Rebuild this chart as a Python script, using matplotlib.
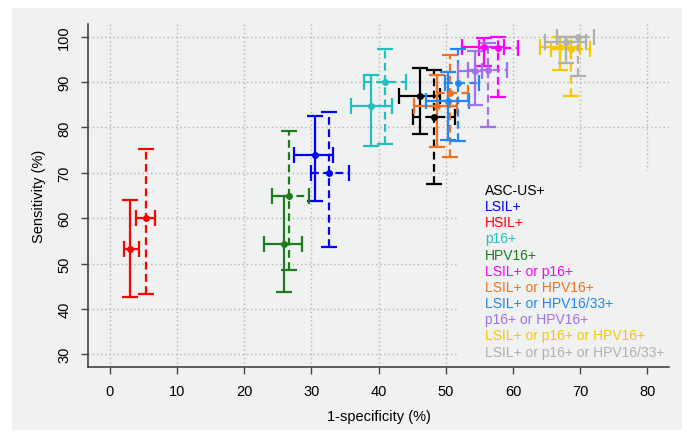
import numpy as np
import matplotlib.pyplot as plt
from matplotlib.patches import Rectangle

plt.rcParams['font.family'] = ['Liberation Sans', 'DejaVu Sans']

labels = ["ASC-US+", "LSIL+", "HSIL+", "p16+", "HPV16+", "LSIL+ or p16+",
          "LSIL+ or HPV16+", "LSIL+ or HPV16/33+", "p16+ or HPV16+",
          "LSIL+ or p16+ or HPV16+", "LSIL+ or p16+ or HPV16/33+"]
colors = ["black", "#0000ff", "#ff0000", "#20c0c0", "#1e7b1e", "#ff00ff",
          "#f07020", "#2088f0", "#a070f0", "#f5c800", "#b0b0b0"]

# solid bars
fpr_a = [46.2, 30.5, 3.1, 38.9, 25.9, 55.7, 48.7, 50.3, 54.4, 67.0, 67.9]
fpr_a_lo = [43.0, 27.5, 2.1, 35.9, 23.0, 52.4, 45.3, 47.0, 51.8, 64.0, 64.8]
fpr_a_hi = [49.2, 33.3, 4.4, 42.0, 28.6, 58.7, 51.7, 53.4, 55.4, 70.0, 70.9]
sens_a = [86.9, 73.9, 53.3, 84.7, 54.4, 97.8, 84.7, 85.8, 92.5, 97.7, 98.9]
sens_a_lo = [78.5, 63.8, 42.6, 75.9, 43.7, 93.5, 75.8, 77.2, 85.0, 92.6, 94.3]
sens_a_hi = [93.0, 82.6, 64.0, 91.5, 64.8, 99.8, 91.5, 92.2, 96.9, 99.9, 100.0]

# dashed bars
fpr_b = [48.2, 32.7, 5.45, 41.0, 26.75, 57.7, 50.6, 51.8, 56.3, 68.6, 69.6]
fpr_b_lo = [45.2, 29.9, 4.0, 37.9, 24.2, 55.0, 48.7, 49.9, 53.3, 65.6, 66.5]
fpr_b_hi = [51.4, 35.6, 6.8, 44.1, 29.6, 60.7, 53.3, 54.9, 59.1, 71.5, 72.1]
sens_b = [82.3, 70.0, 60.15, 90.0, 65.0, 97.5, 87.6, 89.9, 92.6, 97.4, 100.0]
sens_b_lo = [67.5, 53.6, 43.4, 76.3, 48.5, 86.8, 73.4, 77.0, 80.0, 87.0, 91.4]
sens_b_hi = [92.7, 83.5, 75.2, 97.2, 79.3, 100.0, 96.0, 97.2, 98.7, 100.0, 100.0]

bg = '#f0f1f1'
fig = plt.figure(figsize=(6.87, 4.35), dpi=100)
fig.patches.append(Rectangle((12 / 687, 4 / 435), 670 / 687, 422 / 435,
                             transform=fig.transFigure, facecolor=bg,
                             edgecolor='none', zorder=-10))
ax = fig.add_axes([88 / 687, 67 / 435, 581 / 687, 343 / 435])
ax.set_facecolor(bg)

sets = [(fpr_a, fpr_a_lo, fpr_a_hi, sens_a, sens_a_lo, sens_a_hi, False),
        (fpr_b, fpr_b_lo, fpr_b_hi, sens_b, sens_b_lo, sens_b_hi, True)]
for i in range(len(labels)):
    for fx, flo, fhi, sy, slo, shi, dashed in sets:
        eb = ax.errorbar(fx[i], sy[i],
                         xerr=[[fx[i] - flo[i]], [fhi[i] - fx[i]]],
                         yerr=[[sy[i] - slo[i]], [shi[i] - sy[i]]],
                         fmt='o', color=colors[i], ms=4, lw=1.6,
                         capsize=6, capthick=1.6, zorder=3)
        if dashed:
            for lc in eb[2]:
                lc.set_linestyle((0, (3.5, 2)))

ax.set_xlim(-3.2, 83.2)
ax.set_ylim(27.2, 102.8)
ax.set_xticks(np.arange(0, 81, 10))
ax.set_yticks(np.arange(30, 101, 10))
ax.grid(color='#b4b4b4', linestyle=(0, (1, 2)), linewidth=1)
ax.set_axisbelow(True)

for s in ['top', 'right']:
    ax.spines[s].set_visible(False)
for s in ['left', 'bottom']:
    ax.spines[s].set_color('#444444')
    ax.spines[s].set_linewidth(1.2)

ax.tick_params(direction='out', length=5, width=1, color='#444444',
               labelsize=10.5, pad=7)
ax.tick_params(axis='y', labelrotation=90)
for t in ax.get_yticklabels():
    t.set_va('center')

ax.set_xlabel('1-specificity (%)', fontsize=10.5, labelpad=8)
ax.set_ylabel('Sensitivity (%)', fontsize=10.5, labelpad=8)

# legend area covers the grid
ax.add_patch(Rectangle((0.637, 0), 1 - 0.637, 0.571, transform=ax.transAxes,
                       facecolor=bg, edgecolor='none', zorder=1.5))
for i, lab in enumerate(labels):
    ax.text(0.683, 0.516 - i * 0.0471, lab, color=colors[i], fontsize=10,
            transform=ax.transAxes, va='center', ha='left', zorder=4)

fig.savefig('out.png', dpi=100, facecolor='white')
